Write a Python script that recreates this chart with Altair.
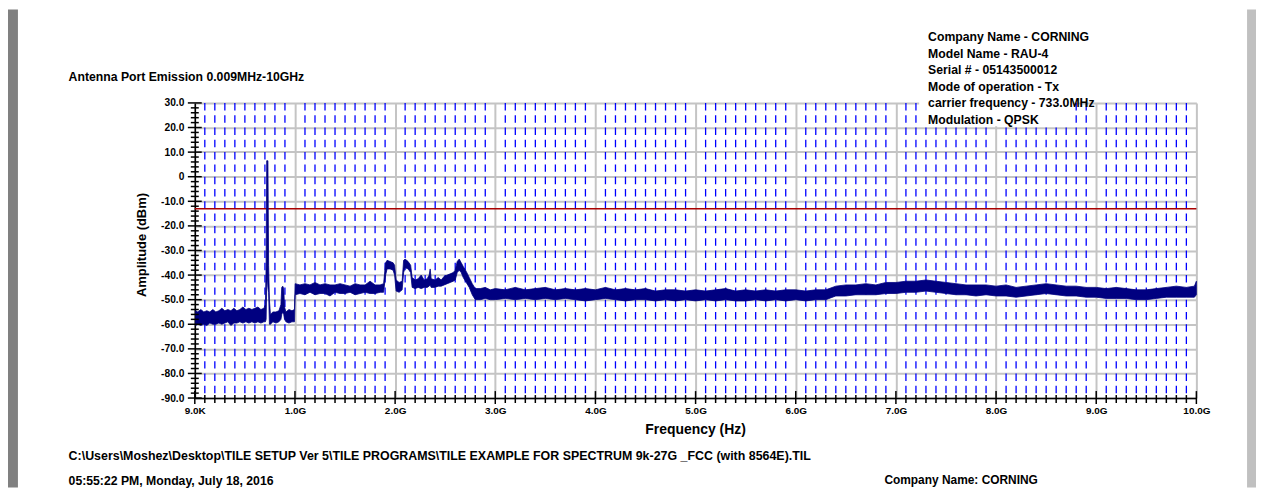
import altair as alt
import pandas as pd

# ---------------- data ----------------
freq_ghz = [
    0.009, 0.03, 0.06, 0.09, 0.12, 0.15, 0.18, 0.21, 0.24, 0.27, 0.30, 0.33, 0.36, 0.39,
    0.42, 0.45, 0.48, 0.51, 0.54, 0.57, 0.60, 0.63, 0.66, 0.69, 0.705, 0.712, 0.718, 0.724,
    0.730, 0.737, 0.745, 0.755, 0.78, 0.81, 0.84, 0.86, 0.868, 0.878, 0.888, 0.896, 0.91,
    0.94, 0.97, 0.995,
    1.002, 1.05, 1.10, 1.15, 1.20, 1.25, 1.30, 1.35, 1.40, 1.45, 1.50, 1.55, 1.60, 1.65,
    1.70, 1.75, 1.80, 1.85, 1.885, 1.905, 1.92, 1.95, 1.98, 1.995, 2.01, 2.04, 2.07, 2.085,
    2.10, 2.13, 2.155, 2.17, 2.20, 2.23, 2.26, 2.29, 2.32, 2.34, 2.35, 2.36, 2.40, 2.43,
    2.46, 2.49, 2.52, 2.55, 2.58, 2.60, 2.62, 2.64, 2.66, 2.68, 2.71, 2.74, 2.77, 2.80,
    2.85, 2.90, 2.95,
    3.0, 3.1, 3.2, 3.3, 3.4, 3.5, 3.6, 3.7, 3.8, 3.9, 4.0, 4.1, 4.2, 4.3, 4.4, 4.5, 4.6,
    4.7, 4.8, 4.9, 5.0, 5.1, 5.2, 5.3, 5.4, 5.5, 5.6, 5.7, 5.8, 5.9, 6.0, 6.1, 6.2, 6.3,
    6.4, 6.5, 6.6, 6.7, 6.8, 6.9, 7.0, 7.1, 7.2, 7.3, 7.4, 7.5, 7.6, 7.7, 7.8, 7.9, 8.0,
    8.1, 8.2, 8.3, 8.4, 8.5, 8.6, 8.7, 8.8, 8.9, 9.0, 9.1, 9.2, 9.3, 9.4, 9.5, 9.6, 9.7,
    9.8, 9.9, 9.98, 10.0,
]
lower_dbm = [
    -60.5, -60, -60.5, -60, -60.5, -59.5, -60, -60, -59.5, -60, -59.5, -59, -60.5, -59.5,
    -59.5, -59, -59.5, -59, -59.5, -59, -59.5, -59, -59.5, -59, -59, -58, -45, -40,
    -45, -47, -60, -60, -59, -59.5, -59, -58, -56, -55, -56, -58, -59,
    -59.5, -59, -59,
    -48, -47.5, -48, -47, -48, -47.5, -47.5, -48.5, -47, -47.5, -47.5, -47, -48, -47.5,
    -47, -47.5, -47.5, -47, -47, -40, -37.5, -37.5, -38, -40, -46.5, -47, -46, -39,
    -37, -37.5, -39, -45, -45.5, -45, -45.5, -45, -45, -44.5, -44, -45, -45, -44.5,
    -44.5, -44, -43.5, -43, -42.5, -42, -39, -38, -39, -41, -43, -45, -48, -50,
    -50, -49.5, -50,
    -50, -49.5, -50, -49.5, -50, -49.5, -50, -49.5, -50, -50.5, -50, -49.5, -50, -50.5,
    -50, -50, -50.5, -50, -50.5, -50, -50.5, -50, -50.5, -50, -50.5, -50.5, -50, -50.5,
    -50, -50.5, -50, -50.5, -50, -50, -48.5, -48.5, -48, -48, -48, -47.5, -47.5, -47,
    -47, -46.5, -47, -47.5, -48, -48, -48.5, -48, -48.5, -48.5, -49, -48.5, -48, -47.5,
    -48, -48.5, -48.5, -49, -49, -49.5, -49.5, -49.5, -50, -50, -49.5, -49, -49, -49,
    -49, -48,
]
upper_dbm = [
    -54.5, -55, -54, -55, -54.5, -55, -54, -55, -54.5, -53.5, -54.5, -54, -54.5, -53.5,
    -54.5, -54, -53, -54, -53.5, -54, -53.5, -53, -54, -53.5, -52, -36, 6.5, 6.5,
    6.5, -36, -50, -56, -55, -55, -54.5, -52, -45, -44.5, -45.5, -53, -55,
    -54, -54.5, -54,
    -43.5, -44, -43.5, -44, -43, -44, -43.5, -44, -44, -43.5, -44, -44.5, -43.5, -44,
    -44, -42.5, -44, -44, -43.5, -35, -34, -34.5, -35, -36, -42, -43, -42.5, -34,
    -33.5, -34.5, -36, -41, -42, -41.5, -40, -42, -41.5, -40, -37.5, -41.5, -42, -41,
    -42, -40.5, -40, -39.5, -39, -38, -34.5, -33.5, -35, -36.5, -38.5, -41, -43.5, -45.5,
    -45.5, -45, -46,
    -45.5, -46, -45, -46, -45.5, -45, -46, -45.5, -46, -45.5, -46, -45, -46, -45.5,
    -46, -45.5, -46.5, -46, -46, -46.5, -46, -46.5, -46, -45.5, -46.5, -46, -46.5, -46,
    -46.5, -46, -46, -46.5, -46, -46, -44.5, -44, -44, -43.5, -44, -43, -43, -42.5,
    -42.5, -42, -42.5, -43, -43.5, -44, -44, -44, -44.5, -44, -45, -44.5, -44, -43.5,
    -44, -44.5, -44.5, -45, -45, -45.5, -45, -45.5, -46, -46, -45.5, -45, -44.5, -45,
    -44.5, -42.5,
]

limit_dbm = -13.0
x_major = [0.000009, 1, 2, 3, 4, 5, 6, 7, 8, 9, 10]
y_major = [-90, -80, -70, -60, -50, -40, -30, -20, -10, 0, 10, 20, 30]

title_text = "Antenna Port Emission 0.009MHz-10GHz"
info_lines = [
    "Company Name - CORNING",
    "Model Name - RAU-4",
    "Serial # - 05143500012",
    "Mode of operation - Tx",
    "carrier frequency - 733.0MHz",
    "Modulation - QPSK",
]
x_title = "Frequency (Hz)"
y_title = "Amplitude (dBm)"
path_text = ("C:\\Users\\Moshez\\Desktop\\TILE SETUP Ver 5\\TILE PROGRAMS\\TILE EXAMPLE FOR "
             "SPECTRUM 9k-27G _FCC (with 8564E).TIL")
date_text = "05:55:22 PM, Monday, July 18, 2016"
company_text = "Company Name: CORNING"

# ---------------- derived tables ----------------
x_minor = [i / 10 for i in range(1, 100) if i % 10]
y_minor = [v for v in range(-90, 31, 2) if v % 10]

trace_df = pd.DataFrame({"f": freq_ghz, "lo": lower_dbm, "hi": upper_dbm})
one = pd.DataFrame({"k": [0]})

W, H = 1008, 297
FONT = "Liberation Sans"

xs = alt.Scale(domain=[0.000009, 10], nice=False, zero=False)
ys = alt.Scale(domain=[-90, 30], nice=False, zero=False)

x_axis = alt.Axis(
    values=x_major, grid=True, gridColor="#c4c4c4", gridWidth=2, ticks=False, tickSize=0,
    domain=True, domainColor="#000000", domainWidth=1.5, labelFont=FONT,
    labelFontWeight="bold", labelFontSize=10, labelColor="#000000", labelPadding=8,
    labelFlush=False, labelOverlap=False,
    labelExpr="datum.value < 0.5 ? '9.0K' : format(datum.value, '.1f') + 'G'", title=None,
)
y_axis = alt.Axis(
    values=y_major, grid=True, gridColor="#c4c4c4", gridWidth=2, ticks=False, tickSize=0,
    domain=True, domainColor="#000000", domainWidth=1.5, labelFont=FONT,
    labelFontWeight="bold", labelFontSize=10.3, labelColor="#000000", labelPadding=11,
    labelFlush=False, labelOverlap=False,
    labelExpr="datum.value == 0 ? '0' : (datum.value < 0 ? '-' : '') + format(abs(datum.value), '.1f')",
    title=None,
)

axes_layer = alt.Chart(trace_df).mark_area(opacity=0).encode(
    x=alt.X("f:Q", scale=xs, axis=x_axis),
    y=alt.Y("lo:Q", scale=ys, axis=y_axis),
    y2="hi:Q",
)

trace = alt.Chart(trace_df).mark_area(
    color="#000080", stroke="#000080", strokeWidth=0.8, opacity=1
).encode(
    x=alt.X("f:Q", scale=xs, axis=x_axis),
    y=alt.Y("lo:Q", scale=ys, axis=y_axis),
    y2="hi:Q",
)

dashes = alt.Chart(pd.DataFrame({"m": x_minor})).mark_rule(
    color="#0000ff", strokeWidth=1.3, strokeDash=[7.5, 4.875]
).encode(
    x=alt.X("m:Q", scale=xs, axis=x_axis),
    y=alt.YDatum(30, scale=ys, axis=y_axis),
    y2=alt.Y2Datum(-90),
)

limit = alt.Chart(one).mark_rule(color="#a80000", strokeWidth=1.5).encode(
    y=alt.YDatum(limit_dbm, scale=ys, axis=y_axis)
)

y_tick_major = alt.Chart(pd.DataFrame({"v": y_major})).mark_rule(
    color="#000000", strokeWidth=1.5
).encode(y=alt.Y("v:Q", scale=ys, axis=y_axis), x=alt.value(-7), x2=alt.value(7))
y_tick_minor = alt.Chart(pd.DataFrame({"v": y_minor})).mark_rule(
    color="#000000", strokeWidth=1.5
).encode(y=alt.Y("v:Q", scale=ys, axis=y_axis), x=alt.value(-4), x2=alt.value(4))
x_tick_major = alt.Chart(pd.DataFrame({"v": x_major})).mark_rule(
    color="#000000", strokeWidth=1.5
).encode(x=alt.X("v:Q", scale=xs, axis=x_axis), y=alt.value(H - 7), y2=alt.value(H + 6))
x_tick_minor = alt.Chart(pd.DataFrame({"v": x_minor})).mark_rule(
    color="#000000", strokeWidth=1.5
).encode(x=alt.X("v:Q", scale=xs, axis=x_axis), y=alt.value(H - 3), y2=alt.value(H + 5))

# text box behind the info block (covers the top of the grid)
info_box = alt.Chart(one).mark_rect(color="#ffffff").encode(
    x=alt.value(729), x2=alt.value(885), y=alt.value(-80), y2=alt.value(23.5)
)
# window frame
left_bevel = alt.Chart(one).mark_rect(color="#808080").encode(
    x=alt.value(-188), x2=alt.value(-178), y=alt.value(-94), y2=alt.value(H + 90)
)
right_bar = alt.Chart(one).mark_rect(color="#c0c0c0").encode(
    x=alt.value(1059), x2=alt.value(1068), y=alt.value(-94), y2=alt.value(H + 90)
)


def txt(t, x, y, size=12, align="left", angle=0, baseline="middle", line_h=None):
    kw = dict(font=FONT, fontWeight="bold", fontSize=size, color="#000000",
              align=align, baseline=baseline)
    if angle:
        kw["angle"] = angle
    if line_h:
        kw["lineHeight"] = line_h
    return alt.Chart(one).mark_text(**kw).encode(
        text=alt.value(t), x=alt.value(x), y=alt.value(y)
    )


texts = [
    txt(title_text, -127, -26, size=12.3),
    txt(info_lines, 738, -62, baseline="alphabetic", line_h=16.6, size=12.3),
    txt(y_title, -53, 143, size=13, align="center", angle=270),
    txt(x_title, W / 2, 329, size=14, align="center"),
    txt(path_text, -127, 355, size=12.5),
    txt(date_text, -127, 381, size=12.3),
    txt(company_text, 694, 380, size=12),
]

chart = alt.layer(
    axes_layer,
    dashes,
    limit,
    info_box,
    trace,
    y_tick_minor, y_tick_major, x_tick_minor, x_tick_major,
    left_bevel, right_bar,
    *texts,
).properties(
    width=W, height=H,
    autosize=alt.AutoSizeParams(type="none"),
    padding={"left": 188, "top": 94, "right": 60, "bottom": 90},
    background="#ffffff",
).configure_view(stroke=None).configure_axis(labelOverlap=False)

chart.save("out.html", embed_options={"renderer": "svg", "actions": False})
